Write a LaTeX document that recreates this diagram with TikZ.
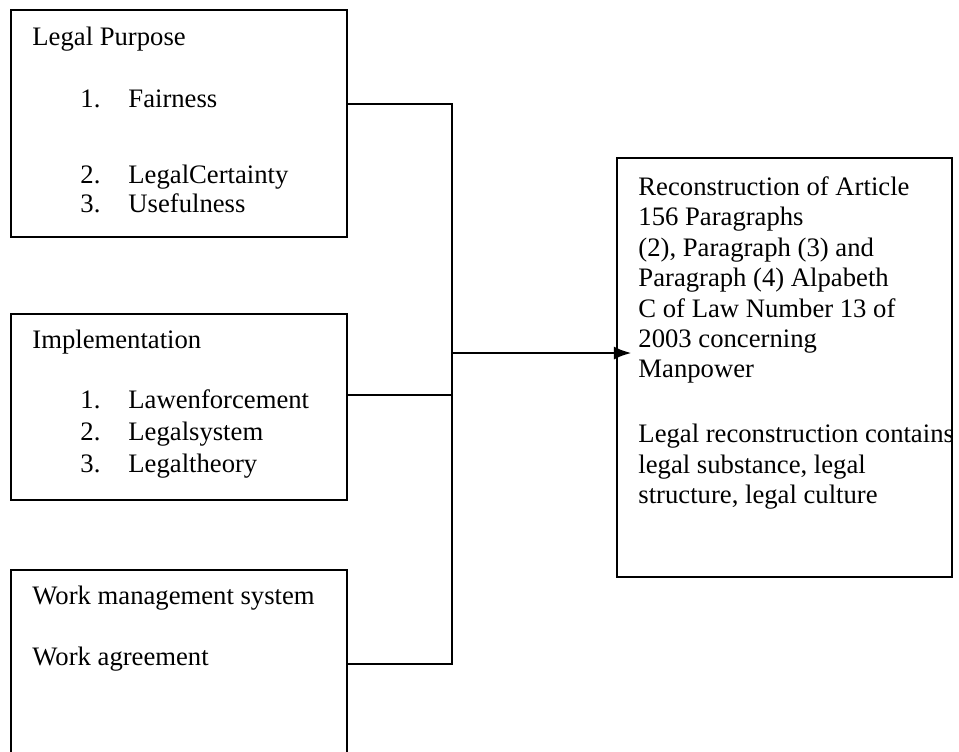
\documentclass[tikz,border=0pt]{standalone}
\usepackage{fontspec}
\setmainfont{Liberation Serif}
\usetikzlibrary{fit,arrows.meta}

\tikzset{
  box/.style={draw, line width=1.2pt, inner sep=0pt},
  txt/.style={anchor=base west, inner sep=0pt, font=\fontsize{12}{13.7}\selectfont},
  link/.style={line width=1.3pt},
}

\begin{document}
\begin{tikzpicture}[x=0.45pt,y=-0.45pt]
\useasboundingbox (0,0) rectangle (959,751);
\clip (0,0) rectangle (959,751);

% left boxes
\node (purpose) [box, fit={(11,10) (347,237)}] {};
\node (impl) [box, fit={(11,314) (347,500)}] {};
\node (work) [box, fit={(11,570) (347,770)}] {};
\node (recon) [box, line width=0.9pt, fit={(617,158) (952,577)}] {};

% legal purpose
\node (purposetitle) at (32,45) [txt] {Legal Purpose};
\node (p1n) at (80,107) [txt] {1.};
\node (p1) at (128,107) [txt] {Fairness};
\node (p2n) at (80,183) [txt] {2.};
\node (p2) at (128,183) [txt] {LegalCertainty};
\node (p3n) at (80,212) [txt] {3.};
\node (p3) at (128,212) [txt] {Usefulness};

% implementation
\node (impltitle) at (32,348) [txt] {Implementation};
\node (i1n) at (80,408) [txt] {1.};
\node (i1) at (128,408) [txt] {Lawenforcement};
\node (i2n) at (80,440) [txt] {2.};
\node (i2) at (128,440) [txt] {Legalsystem};
\node (i3n) at (80,472) [txt] {3.};
\node (i3) at (128,472) [txt] {Legaltheory};

% work management
\node (worktitle) at (32,604) [txt] {Work management system};
\node (agreement) at (32,665) [txt] {Work agreement};

% reconstruction
\node (recontext) at (638,176) [txt, anchor=north west, align=left] {Reconstruction of Article\\
156 Paragraphs\\
(2), Paragraph (3) and\\
Paragraph (4) Alpabeth\\
C of Law Number 13 of\\
2003 concerning\\
Manpower\\[15.5pt]
Legal reconstruction contains\\
legal substance, legal\\
structure, legal culture};

% connectors
\coordinate (bustop) at (452,104);
\coordinate (busmid) at (452,395);
\coordinate (busbot) at (452,664);
\coordinate (hub) at (452,353);
\draw[link] (purpose.east |- bustop) -- (bustop) -- (busbot) -- (work.east |- busbot);
\draw[link] (impl.east |- busmid) -- (busmid);
\draw[link, -{Latex[length=8pt,width=6pt]}, shorten >=-7pt] (hub) -- (recon.west |- hub);
\end{tikzpicture}
\end{document}
